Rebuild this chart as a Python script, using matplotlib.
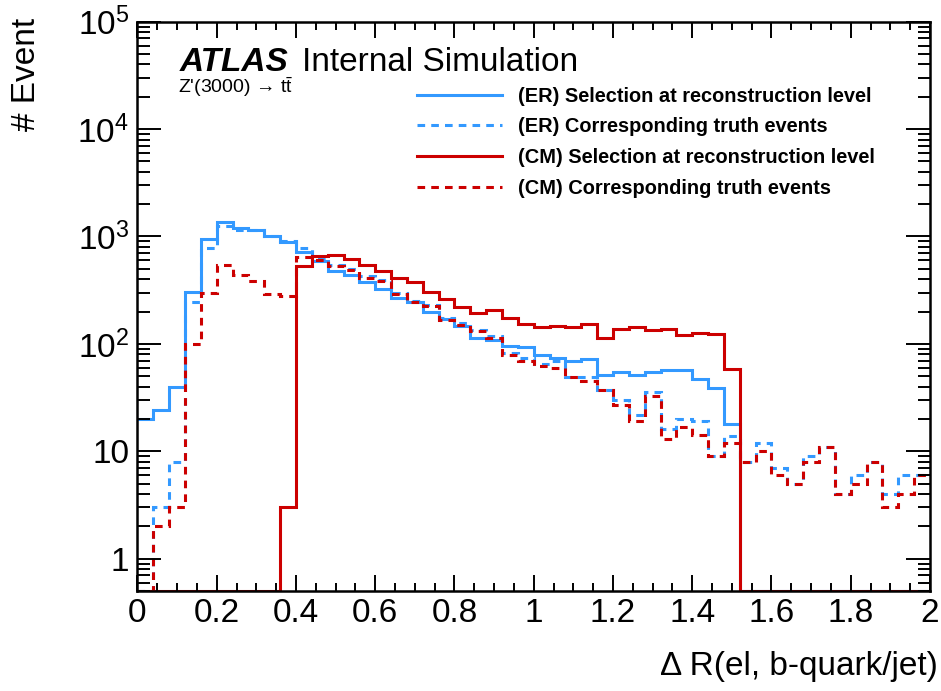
import numpy as np
import matplotlib
matplotlib.use("Agg")
import matplotlib.pyplot as plt
from matplotlib.ticker import FixedLocator, MultipleLocator, LogLocator, FuncFormatter, NullFormatter

plt.rcParams['font.family'] = ['Liberation Sans', 'DejaVu Sans']
plt.rcParams['mathtext.fontset'] = 'custom'
plt.rcParams['mathtext.rm'] = 'Liberation Sans'
plt.rcParams['mathtext.it'] = 'Liberation Sans:italic'
plt.rcParams['mathtext.bf'] = 'Liberation Sans:bold'

# 50 bins of 0.04 in Delta R
edges = np.linspace(0.0, 2.0, 51)

er_reco = [20, 24, 40, 302, 948, 1365, 1200, 1157, 1010, 880,
           722, 590, 473, 441, 377, 326, 268, 245, 198, 171,
           146, 113, 109, 95, 93, 78, 74, 69, 73, 51,
           55, 51, 55, 57, 57, 47, 39, 18, 0, 0,
           0, 0, 0, 0, 0, 0, 0, 0, 0, 0]
er_truth = [0, 3, 8, 245, 782, 1242, 1157, 1150, 1000, 900,
            782, 630, 546, 498, 425, 390, 295, 252, 230, 174,
            155, 136, 118, 82, 74, 65, 69, 49, 49, 37.5,
            30, 22, 36, 16, 20, 19, 9, 14, 8, 12,
            7, 5, 9, 11, 4, 6, 8, 4, 6, 6]
cm_reco = [0, 0, 0, 0, 0, 0, 0, 0, 0, 3,
           527, 665, 672, 617, 546, 473, 410, 377, 304, 264,
           219, 194, 205, 174, 154, 144, 146, 144, 154, 113,
           139, 143, 136, 138, 122, 127, 124, 58, 0, 0,
           0, 0, 0, 0, 0, 0, 0, 0, 0, 0]
cm_truth = [0, 2, 3, 100, 298, 546, 441, 382, 291, 277,
            640, 610, 527, 483, 415, 385, 290, 246, 226, 168,
            150, 132, 114, 79, 69, 62, 60, 49, 45, 37.5,
            27, 19, 33, 13, 17, 14.3, 9, 12, 8, 10,
            6, 5, 8, 11, 4, 5, 8, 3, 4, 6]

labels = ["(ER) Selection at reconstruction level",
          "(ER) Corresponding truth events",
          "(CM) Selection at reconstruction level",
          "(CM) Corresponding truth events"]

BLUE = '#3399ff'
RED = '#cc0000'
YMIN, YMAX = 0.5, 1e5

fig = plt.figure(figsize=(9.41, 6.91), dpi=100)
ax = fig.add_axes([0.1461, 0.1447, 0.8422, 0.8239])
ax.set_yscale('log')

series = [(er_reco, BLUE, '-'), (er_truth, BLUE, (0, (2.5, 2))),
          (cm_reco, RED, '-'), (cm_truth, RED, (0, (2.5, 2)))]
for (vals, col, ls), lab in zip(series, labels):
    v = np.asarray(vals, dtype=float)
    v = np.where(v > 0, v, YMIN)  # empty bins drawn on the floor like ROOT
    ax.stairs(v, edges, baseline=None, color=col, linestyle=ls, linewidth=2.2, label=lab)

ax.set_xlim(0, 2)
ax.set_ylim(YMIN, YMAX)

ax.xaxis.set_major_locator(MultipleLocator(0.2))
ax.xaxis.set_minor_locator(MultipleLocator(0.05))
ax.xaxis.set_major_formatter(FuncFormatter(lambda x, p: f"{x:g}"))
ax.yaxis.set_major_locator(FixedLocator([1, 10, 100, 1e3, 1e4, 1e5]))
ax.yaxis.set_minor_locator(LogLocator(base=10, subs=np.arange(2, 10)))
ax.yaxis.set_minor_formatter(NullFormatter())


def ylab(y, pos):
    n = int(round(np.log10(y)))
    if n == 0:
        return "1"
    if n == 1:
        return "10"
    return "$10^{%d}$" % n


ax.yaxis.set_major_formatter(FuncFormatter(ylab))

ax.tick_params(which='both', direction='in', top=True, right=True, width=1.4, labelsize=24)
ax.tick_params(axis='x', which='major', length=11.5, pad=5)
ax.tick_params(axis='x', which='minor', length=5.8)
ax.tick_params(axis='y', which='major', length=17, pad=6)
ax.tick_params(axis='y', which='minor', length=9)
for s in ax.spines.values():
    s.set_linewidth(1.8)

ax.set_xlabel("\u0394 R(el, b-quark/jet)", fontsize=24, loc='right')
ax.xaxis.set_label_coords(1.01, -0.105)
ax.set_ylabel("# Event", fontsize=24, loc='top')
ax.yaxis.set_label_coords(-0.1205, 1.0065)

ax.text(0.0536, 0.9135, "ATLAS", transform=ax.transAxes, fontsize=24,
        fontweight='bold', fontstyle='italic', va='baseline')
ax.text(0.2076, 0.9135, "Internal Simulation", transform=ax.transAxes, fontsize=24, va='baseline')
ax.text(0.0511, 0.8745, "Z'(3000) \u2192 $\\mathrm{t\\bar{t}}$", transform=ax.transAxes,
        fontsize=14, va='baseline')

ax.legend(loc='upper left', bbox_to_anchor=(0.3527, 0.886), frameon=False,
          prop={'weight': 'bold', 'size': 14.4}, handlelength=4.25, handletextpad=0.8,
          labelspacing=0.59, borderaxespad=0, borderpad=0)

fig.savefig("out.png", dpi=100)
